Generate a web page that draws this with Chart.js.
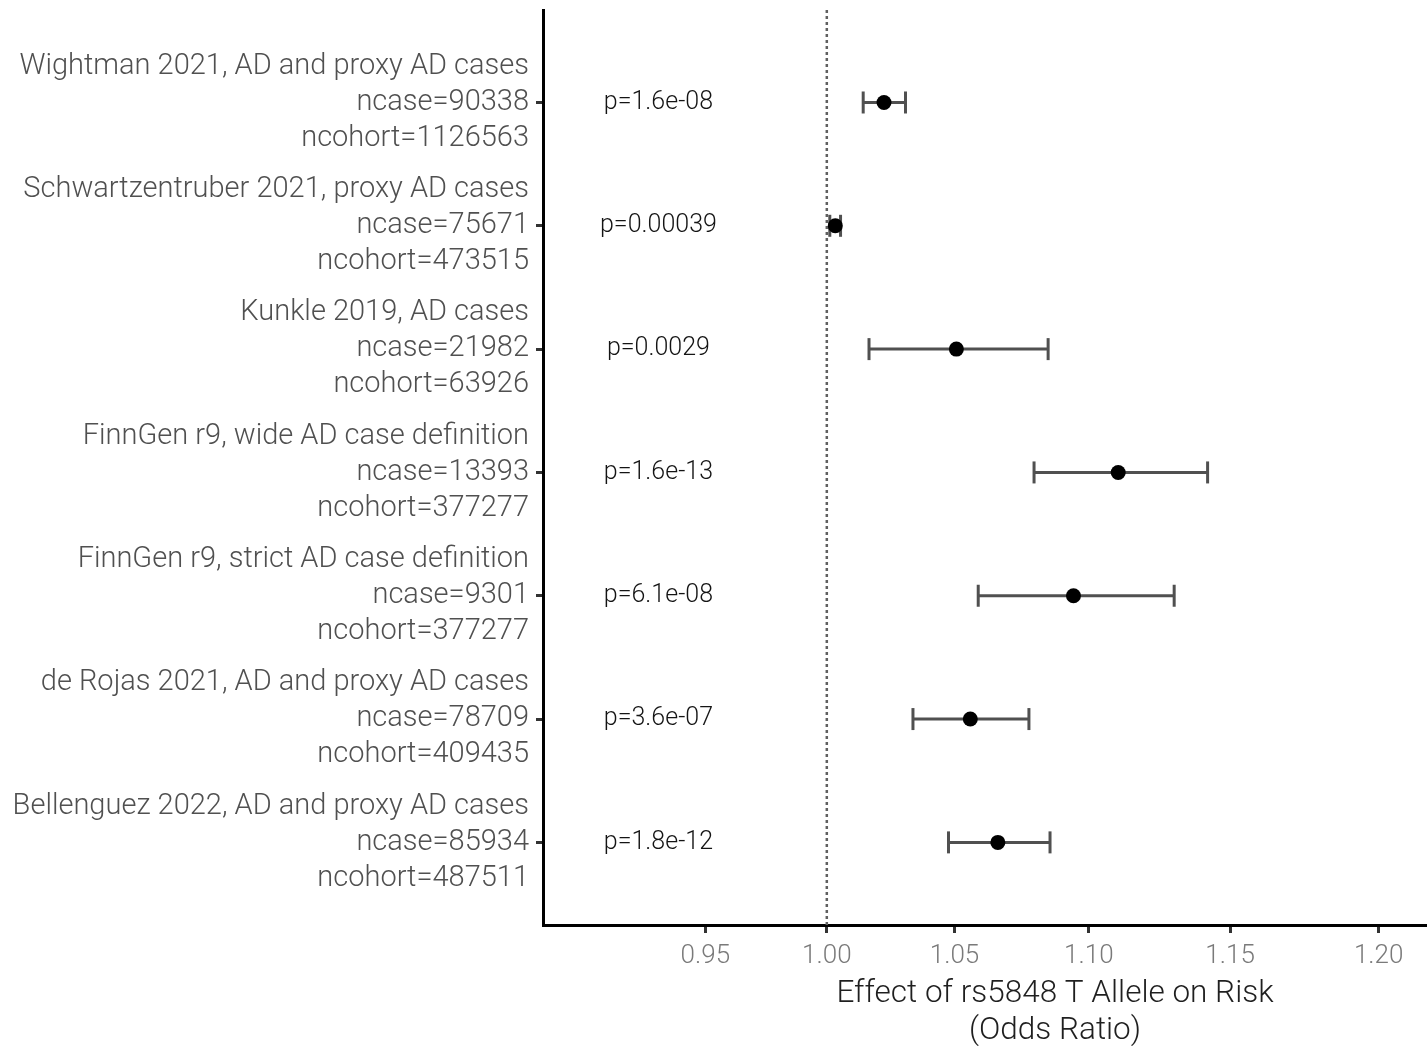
<!DOCTYPE html>
<html>
<head>
<meta charset="utf-8">
<title>rs5848 T allele forest plot</title>
<script src="https://cdn.jsdelivr.net/npm/chart.js@4.4.1/dist/chart.umd.min.js"></script>
<style>
  html, body { margin: 0; padding: 0; background: #fff; overflow: hidden; }
  #wrap { width: 1567px; height: 1046px; }
</style>
</head>
<body>
<div id="wrap"><canvas id="forest" width="1567" height="1046"></canvas></div>
<script>
/* ------------------------------------------------------------
   DATA
   ------------------------------------------------------------ */
const studies = [
    "Wightman 2021, AD and proxy AD cases",
    "Schwartzentruber 2021, proxy AD cases",
    "Kunkle 2019, AD cases",
    "FinnGen r9, wide AD case definition",
    "FinnGen r9, strict AD case definition",
    "de Rojas 2021, AD and proxy AD cases",
    "Bellenguez 2022, AD and proxy AD cases"
];
const nCase   = [90338, 75671, 21982, 13393, 9301, 78709, 85934];
const nCohort = [1126563, 473515, 63926, 377277, 377277, 409435, 487511];
const pValues = ["p=1.6e-08", "p=0.00039", "p=0.0029", "p=1.6e-13", "p=6.1e-08", "p=3.6e-07", "p=1.8e-12"];

const oddsRatio = [1.0227, 1.0034, 1.0507, 1.1106, 1.0944, 1.0560, 1.0664];
const ciLow     = [1.0145, 1.0012, 1.0168, 1.0799, 1.0590, 1.0340, 1.0477];
const ciHigh    = [1.0311, 1.0055, 1.0851, 1.1422, 1.1305, 1.0780, 1.0858];

const xTicks     = [0.95, 1.00, 1.05, 1.10, 1.15, 1.20];
const nullEffect = 1.00;
const pLabelAt   = 0.93;

/* ------------------------------------------------------------
   AXIS SETUP
   ------------------------------------------------------------ */
const X_MIN = 0.879, X_MAX = 1.26;
const Y_MIN = 0.25, Y_MAX = 7.67;
// the printed axis spacing widens to the right, so the x scale bends a little
const AXIS_CURVE = 0.383;

const rows = studies.map((_, i) => i + 1);

class WarpedLinearScale extends Chart.LinearScale {
    static id = "warpedLinear";

    getPixelForValue(value) {
        if (value === null || value === undefined) return NaN;
        const t = (value - this.min) / (this.max - this.min);
        return this.getPixelForDecimal(Math.expm1(AXIS_CURVE * t) / Math.expm1(AXIS_CURVE));
    }

    getValueForPixel(pixel) {
        const d = this.getDecimalForPixel(pixel);
        return this.min + (this.max - this.min) * Math.log1p(d * Math.expm1(AXIS_CURVE)) / AXIS_CURVE;
    }
}
Chart.register(WarpedLinearScale);

// labels may hang past the plot edges, as in the original
const noEdgePadding = s => {
    s.paddingTop = 0;
    s.paddingBottom = 0;
    s.paddingLeft = 0;
    s.paddingRight = 0;
};

/* p-value column, placed through the scales */
const pValueLabels = {
    id: "pValueLabels",
    afterDatasetsDraw(chart) {
        const { ctx, scales: { x, y } } = chart;
        ctx.save();
        ctx.font = "300 25px Roboto";
        ctx.fillStyle = "#141414";
        ctx.textAlign = "center";
        ctx.textBaseline = "middle";
        pValues.forEach((txt, i) => {
            ctx.fillText(txt, x.getPixelForValue(pLabelAt), y.getPixelForValue(rows[i]));
        });
        ctx.restore();
    }
};

/* ------------------------------------------------------------
   DATASETS
   ------------------------------------------------------------ */
const BAR_GREY = "#505050";

const nullLine = {
    type: "line",
    showLine: true,
    data: [{ x: nullEffect, y: Y_MIN }, { x: nullEffect, y: Y_MAX }],
    borderColor: "#606060",
    borderWidth: 2.5,
    borderDash: [3, 3],
    pointRadius: 0,
    order: 3
};

const errorBars = studies.map((name, i) => ({
    type: "line",
    showLine: true,
    label: name,
    data: [{ x: ciLow[i], y: rows[i] }, { x: ciHigh[i], y: rows[i] }],
    borderColor: BAR_GREY,
    borderWidth: 3,
    pointStyle: "line",
    pointRotation: 90,
    pointRadius: 11,
    pointHoverRadius: 11,
    pointBorderWidth: 3,
    pointBorderColor: BAR_GREY,
    order: 2
}));

const estimates = {
    type: "scatter",
    data: oddsRatio.map((v, i) => ({ x: v, y: rows[i] })),
    backgroundColor: "#000",
    borderWidth: 0,
    pointRadius: 7.5,
    pointHoverRadius: 7.5,
    order: 1
};

const FONT = "Roboto";

new Chart(document.getElementById("forest"), {
    type: "scatter",
    data: { datasets: [nullLine, ...errorBars, estimates] },
    plugins: [pValueLabels],
    options: {
        responsive: false,
        animation: false,
        layout: { autoPadding: false, padding: { top: 10, left: 0, right: 0, bottom: 0 } },
        plugins: {
            legend: { display: false },
            tooltip: { enabled: false }
        },
        scales: {
            x: {
                type: "warpedLinear",
                min: X_MIN,
                max: X_MAX,
                afterBuildTicks: s => { s.ticks = xTicks.map(v => ({ value: v })); },
                afterFit: s => { s.height = 121; noEdgePadding(s); },
                border: { display: true, color: "#000", width: 3 },
                grid: { drawOnChartArea: false, drawTicks: true, tickLength: 8, tickWidth: 3, tickColor: "#333" },
                ticks: {
                    autoSkip: false,
                    maxRotation: 0,
                    padding: 8,
                    color: "#7a7a7a",
                    font: { family: FONT, size: 26, weight: 300 },
                    callback: v => v.toFixed(2)
                },
                title: {
                    display: true,
                    text: ["Effect of rs5848 T Allele on Risk", "(Odds Ratio)"],
                    color: "#1f1f1f",
                    padding: { top: 0, bottom: -4 },
                    font: { family: FONT, size: 31.5, weight: 300, lineHeight: 37 / 31.5 }
                }
            },
            y: {
                type: "linear",
                reverse: true,
                min: Y_MIN,
                max: Y_MAX,
                afterBuildTicks: s => { s.ticks = rows.map(v => ({ value: v })); },
                afterFit: s => { s.width = 543; noEdgePadding(s); },
                border: { display: true, color: "#000", width: 3 },
                grid: { drawOnChartArea: false, drawTicks: true, tickLength: 7, tickWidth: 3, tickColor: "#333" },
                ticks: {
                    autoSkip: false,
                    padding: 7,
                    color: "#505050",
                    font: { family: FONT, size: 29, weight: 300, lineHeight: 36 / 29 },
                    callback: v => [studies[v - 1], "ncase=" + nCase[v - 1], "ncohort=" + nCohort[v - 1]]
                }
            }
        }
    }
});
</script>
</body>
</html>
